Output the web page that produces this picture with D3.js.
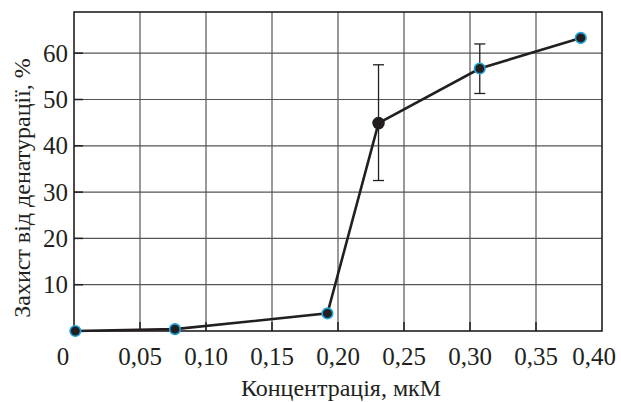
<!DOCTYPE html>
<html>
<head>
<meta charset="utf-8">
<script src="https://cdn.jsdelivr.net/npm/d3@7"></script>
</head>
<body style="margin:0">
<svg id="drawing_region" width="621" height="402" font-family="Liberation Serif"></svg>
<script>
// concentration (mkM) and protection (%)
const conc = [0.001, 0.0765, 0.192, 0.2307, 0.3074, 0.3839];
const protect = [0, 0.4, 3.8, 44.9, 56.7, 63.3];
const errLow = [null, null, null, 32.5, 51.3, null];
const errHigh = [null, null, null, 57.5, 62.0, null];
const ring = [true, true, true, false, true, true];
const xTicks = [0, 0.05, 0.10, 0.15, 0.20, 0.25, 0.30, 0.35, 0.40];
const xTickLabels = ["0", "0,05", "0,10", "0,15", "0,20", "0,25", "0,30", "0,35", "0,40"];
const yTicks = [10, 20, 30, 40, 50, 60];

const W = 621, H = 402;
const m = { left: 74, right: 19, top: 12, bottom: 71 };
const INK = '#231f20';

const svg = d3.select('#drawing_region');

const x = d3.scaleLinear().domain([0, 0.4]).range([m.left, W - m.right]);
const y = d3.scaleLinear().domain([0, 68.9]).range([H - m.bottom, m.top]);

// grid
svg.append('g').selectAll('line')
    .data(xTicks.slice(1, -1))
    .enter().append('line')
    .attr('x1', d => x(d)).attr('x2', d => x(d))
    .attr('y1', y.range()[0]).attr('y2', y.range()[1])
    .attr('stroke', '#555').attr('stroke-width', 1.2);

svg.append('g').selectAll('line')
    .data(yTicks)
    .enter().append('line')
    .attr('x1', x.range()[0]).attr('x2', x.range()[1])
    .attr('y1', d => y(d)).attr('y2', d => y(d))
    .attr('stroke', '#555').attr('stroke-width', 1.2);

// inner ticks
svg.append('g').selectAll('line')
    .data(yTicks)
    .enter().append('line')
    .attr('x1', x.range()[0]).attr('x2', x.range()[0] + 9)
    .attr('y1', d => y(d)).attr('y2', d => y(d))
    .attr('stroke', INK).attr('stroke-width', 1.5);

svg.append('g').selectAll('line')
    .data(xTicks.slice(1, -1))
    .enter().append('line')
    .attr('x1', d => x(d)).attr('x2', d => x(d))
    .attr('y1', y(0)).attr('y2', y(0) - 9)
    .attr('stroke', INK).attr('stroke-width', 1.5);

// frame
svg.append('rect')
    .attr('x', x.range()[0]).attr('y', y.range()[1])
    .attr('width', x.range()[1] - x.range()[0])
    .attr('height', y.range()[0] - y.range()[1])
    .attr('fill', 'none')
    .attr('stroke', INK).attr('stroke-width', 1.6);

// tick labels
svg.append('g').selectAll('text')
    .data(xTicks)
    .enter().append('text')
    .attr('x', (d, i) => i == 0 ? x(d) - 11 : (i == xTicks.length - 1 ? x(d) - 8 : x(d)))
    .attr('y', 365)
    .attr('text-anchor', 'middle')
    .attr('font-size', 25)
    .attr('fill', INK)
    .text((d, i) => xTickLabels[i]);

svg.append('g').selectAll('text')
    .data(yTicks)
    .enter().append('text')
    .attr('x', 68)
    .attr('y', d => y(d) + 8.5)
    .attr('text-anchor', 'end')
    .attr('font-size', 25)
    .attr('fill', INK)
    .text(d => d);

// titles
svg.append('text')
    .attr('x', 341).attr('y', 396)
    .attr('text-anchor', 'middle')
    .attr('font-size', 24)
    .attr('fill', INK)
    .text('Концентрація, мкМ');

svg.append('text')
    .attr('transform', 'translate(30,188) rotate(-90)')
    .attr('text-anchor', 'middle')
    .attr('font-size', 24)
    .attr('fill', INK)
    .text('Захист від денатурації, %');

const data = conc.map((c, i) => ({ c: c, p: protect[i], lo: errLow[i], hi: errHigh[i], ring: ring[i] }));

// error bars
const eb = svg.append('g').selectAll('g')
    .data(data.filter(d => d.lo != null))
    .enter().append('g')
    .attr('stroke', INK).attr('stroke-width', 1.3);
eb.append('line')
    .attr('x1', d => x(d.c)).attr('x2', d => x(d.c))
    .attr('y1', d => y(d.lo)).attr('y2', d => y(d.hi));
eb.append('line')
    .attr('x1', d => x(d.c) - 5.5).attr('x2', d => x(d.c) + 5.5)
    .attr('y1', d => y(d.lo)).attr('y2', d => y(d.lo));
eb.append('line')
    .attr('x1', d => x(d.c) - 5.5).attr('x2', d => x(d.c) + 5.5)
    .attr('y1', d => y(d.hi)).attr('y2', d => y(d.hi));

// line
const line = d3.line().x(d => x(d.c)).y(d => y(d.p));
svg.append('path')
    .datum(data)
    .attr('d', line)
    .attr('fill', 'none')
    .attr('stroke', INK)
    .attr('stroke-width', 2.6);

// points
svg.append('g').selectAll('circle')
    .data(data)
    .enter().append('circle')
    .attr('cx', d => x(d.c))
    .attr('cy', d => y(d.p))
    .attr('r', d => d.ring ? 5.3 : 6.3)
    .attr('fill', INK)
    .attr('stroke', d => d.ring ? '#1ea6dc' : 'none')
    .attr('stroke-width', 1.6);
</script>
</body>
</html>
